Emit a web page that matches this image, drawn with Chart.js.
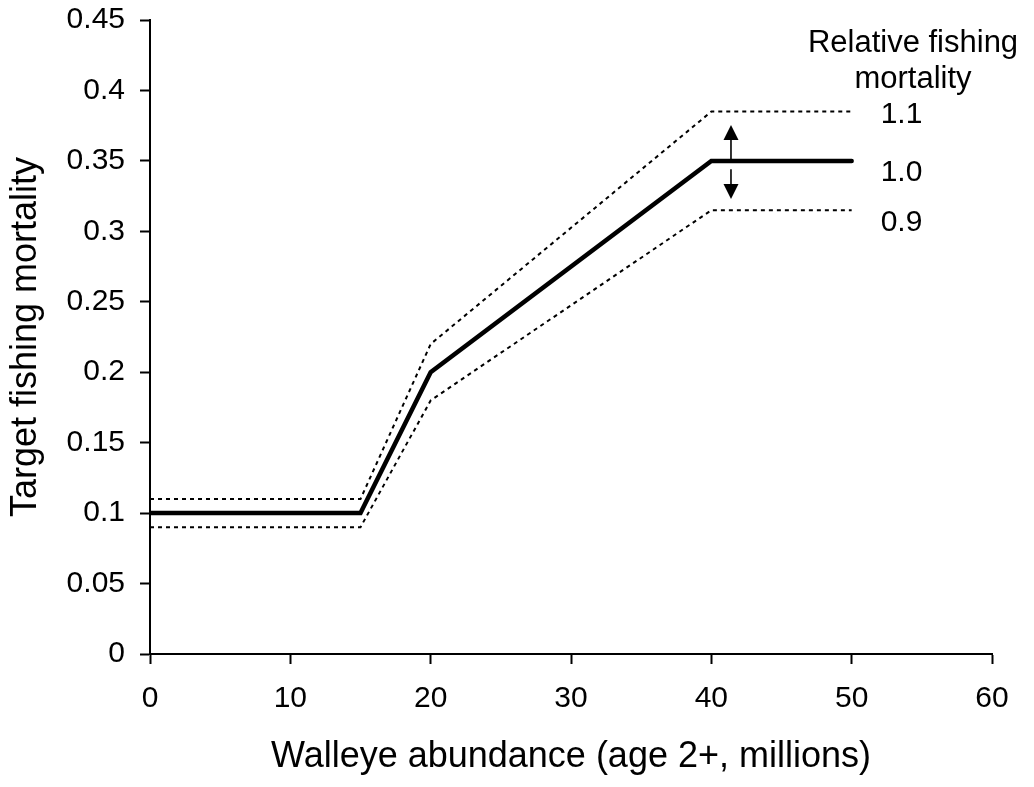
<!DOCTYPE html>
<html>
<head>
<meta charset="utf-8">
<script src="https://cdn.jsdelivr.net/npm/chart.js@4/dist/chart.umd.min.js"></script>
<style>
  html, body { margin: 0; padding: 0; background: #fff; }
  canvas { display: block; }
</style>
</head>
<body>
<canvas id="c" width="1034" height="787"></canvas>
<script>
// ---- data ----
const abundance = [0, 15, 20, 40, 50];          // walleye abundance (millions)
const baseF     = [0.10, 0.10, 0.20, 0.35, 0.35];   // relative 1.0
const upperF    = [0.11, 0.11, 0.22, 0.385, 0.385]; // relative 1.1
const lowerF    = [0.09, 0.09, 0.18, 0.315, 0.315]; // relative 0.9
const relativeLabels = ['1.1', '1.0', '0.9'];
const legendTitle = ['Relative fishing', 'mortality'];
const xTicks = [0, 10, 20, 30, 40, 50, 60];
const yTicks = [0, 0.05, 0.1, 0.15, 0.2, 0.25, 0.3, 0.35, 0.4, 0.45];
const arrowX = 41.4;
const arrowUp = [0.35, 0.3755];
const arrowDown = [0.344, 0.323];

const FONT = "'Liberation Sans', Arial, sans-serif";

function pts(ys) { return abundance.map((x, i) => ({ x: x, y: ys[i] })); }

const annot = {
  id: 'annot',
  afterDatasetsDraw(chart) {
    const ctx = chart.ctx;
    const xs = chart.scales.x, ys = chart.scales.y;
    ctx.save();
    // arrows
    const ax = xs.getPixelForValue(arrowX);
    function arrow(y0, y1) {
      const p0 = ys.getPixelForValue(y0), p1 = ys.getPixelForValue(y1);
      const dir = p1 < p0 ? -1 : 1;
      const headL = 15, headW = 7.5;
      ctx.strokeStyle = '#000';
      ctx.lineWidth = 1.6;
      ctx.beginPath();
      ctx.moveTo(ax, p0);
      ctx.lineTo(ax, p1 - dir * headL);
      ctx.stroke();
      ctx.fillStyle = '#000';
      ctx.beginPath();
      ctx.moveTo(ax, p1);
      ctx.lineTo(ax - headW, p1 - dir * headL);
      ctx.lineTo(ax + headW, p1 - dir * headL);
      ctx.closePath();
      ctx.fill();
    }
    arrow(arrowUp[0], arrowUp[1]);
    arrow(arrowDown[0], arrowDown[1]);

    // line-end labels
    const lastX = xs.getPixelForValue(abundance[abundance.length - 1]);
    const ends = [upperF[upperF.length - 1], baseF[baseF.length - 1], lowerF[lowerF.length - 1]];
    const dy = [3, 11.5, 13];
    ctx.fillStyle = '#000';
    ctx.font = '30px ' + FONT;
    ctx.textAlign = 'left';
    ctx.textBaseline = 'middle';
    relativeLabels.forEach((t, i) => {
      ctx.fillText(t, lastX + 29, ys.getPixelForValue(ends[i]) + dy[i]);
    });
    // legend title
    ctx.font = '31px ' + FONT;
    ctx.textAlign = 'center';
    ctx.fillText(legendTitle[0], 913, 43);
    ctx.fillText(legendTitle[1], 913, 79);
    ctx.restore();
  }
};

new Chart(document.getElementById('c'), {
  type: 'scatter',
  data: {
    datasets: [
      { label: '1.1', data: pts(upperF), showLine: true, borderColor: '#000', borderWidth: 2,
        borderDash: [4, 4], pointRadius: 0, tension: 0 },
      { label: '0.9', data: pts(lowerF), showLine: true, borderColor: '#000', borderWidth: 2,
        borderDash: [4, 4], pointRadius: 0, tension: 0 },
      { label: '1.0', data: pts(baseF), showLine: true, borderColor: '#000', borderWidth: 4.5,
        borderCapStyle: 'round', borderJoinStyle: 'miter', pointRadius: 0, tension: 0 }
    ]
  },
  options: {
    responsive: false,
    animation: false,
    devicePixelRatio: 1,
    layout: { padding: { top: 20, right: 42, left: 0, bottom: 0 } },
    plugins: { legend: { display: false }, tooltip: { enabled: false } },
    scales: {
      x: {
        type: 'linear', min: 0, max: 60,
        afterBuildTicks: s => { s.ticks = xTicks.map(v => ({ value: v })); },
        afterFit: s => { s.height = 133; s.paddingLeft = 0; s.paddingRight = 0; },
        border: { color: '#000', width: 2 },
        grid: { drawOnChartArea: false, drawTicks: true, tickLength: 10, tickColor: '#000', tickWidth: 2 },
        ticks: { color: '#000', font: { family: FONT, size: 30 }, padding: 17, maxRotation: 0 },
        title: { display: true, text: 'Walleye abundance (age 2+, millions)', color: '#000',
                 font: { family: FONT, size: 36 }, padding: { top: 0, bottom: 8 } }
      },
      y: {
        type: 'linear', min: 0, max: 0.45,
        afterBuildTicks: s => { s.ticks = yTicks.map(v => ({ value: v })); },
        afterFit: s => { s.width = 150; s.paddingTop = 0; s.paddingBottom = 0; },
        border: { color: '#000', width: 2 },
        grid: { drawOnChartArea: false, drawTicks: true, tickLength: 10, tickColor: '#000', tickWidth: 2 },
        ticks: { color: '#000', font: { family: FONT, size: 30 }, padding: 15,
                 callback: v => String(Math.round(v * 100) / 100) },
        title: { display: true, text: 'Target fishing mortality', color: '#000',
                 font: { family: FONT, size: 36 }, padding: { top: 4, bottom: 0 } }
      }
    }
  },
  plugins: [annot]
});
</script>
</body>
</html>
